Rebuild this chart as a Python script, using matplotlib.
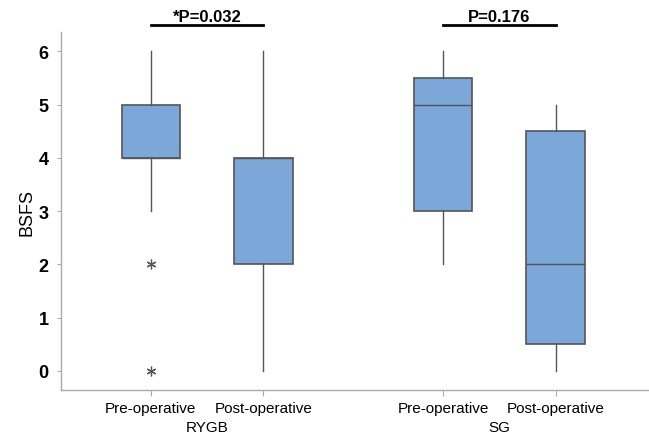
import numpy as np
import matplotlib.pyplot as plt

plt.rcParams['font.family'] = ['Liberation Sans', 'DejaVu Sans']

# box statistics
labels = ['Pre-operative', 'Post-operative', 'Pre-operative', 'Post-operative']
groups = ['RYGB', 'SG']
q1 = [4, 2, 3, 0.5]
med = [4, 4, 5, 2]
q3 = [5, 4, 5.5, 4.5]
wlo = [3, 0, 2, 0]
whi = [6, 6, 6, 5]
fliers = [[2, 0], [], [], []]
p_texts = ['*P=0.032', 'P=0.176']

positions = [0, 1, 2.6, 3.6]

stats = []
for i in range(4):
    stats.append(dict(med=med[i], q1=q1[i], q3=q3[i], whislo=wlo[i],
                      whishi=whi[i], fliers=fliers[i]))

fig = plt.figure(figsize=(6.49, 4.35), dpi=100)
ax = fig.add_axes([0.094, 0.101, 0.904, 0.823])

edge = '#555555'
ax.bxp(stats, positions=positions, widths=0.52, patch_artist=True,
       showcaps=False,
       boxprops=dict(facecolor='#7ba7d9', edgecolor=edge, linewidth=1.2),
       medianprops=dict(color=edge, linewidth=1.0),
       whiskerprops=dict(color=edge, linewidth=1.0),
       flierprops=dict(marker=(6, 2, 0), markersize=7, markeredgecolor=edge,
                       markeredgewidth=0.9, linestyle='none'))

ax.set_xlim(-0.8, 4.42)
ax.set_ylim(-0.36, 6.36)
ax.set_xticks(positions)
ax.set_xticklabels(labels, fontsize=11)
ax.set_yticks(range(7))
ax.set_yticklabels([str(v) for v in range(7)], fontsize=13, fontweight='bold')
ax.tick_params(axis='y', length=3, color='#aaaaaa', pad=6)
ax.tick_params(axis='x', length=4, color='#aaaaaa', pad=4)
ax.set_ylabel('BSFS', fontsize=13, labelpad=2)

for s in ['top', 'right']:
    ax.spines[s].set_visible(False)
for s in ['left', 'bottom']:
    ax.spines[s].set_color('#aaaaaa')
    ax.spines[s].set_linewidth(1.0)

# group labels under the tick labels
for g, (a, b) in zip(groups, [(positions[0], positions[1]), (positions[2], positions[3])]):
    ax.text((a + b) / 2, -0.36 - 0.7, g, ha='center', va='center', fontsize=11)

# p-values with bars above each pair
for t, (a, b) in zip(p_texts, [(positions[0], positions[1]), (positions[2], positions[3])]):
    ax.plot([a, b], [6.49, 6.49], color='black', linewidth=2, clip_on=False)
    ax.text((a + b) / 2, 6.52, t, ha='center', va='bottom', fontsize=12,
            fontweight='bold')

fig.savefig('out.png', dpi=100)
